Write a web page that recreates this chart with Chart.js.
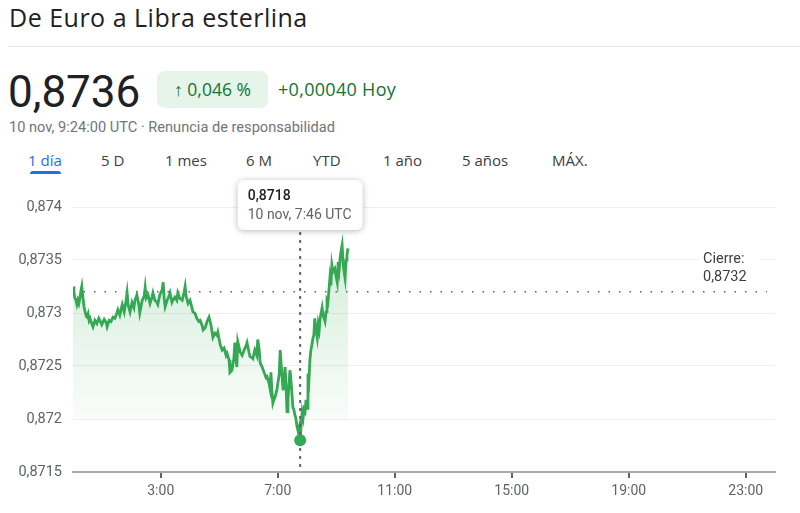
<!DOCTYPE html>
<html lang="es">
<head>
<meta charset="utf-8">
<title>De Euro a Libra esterlina</title>
<script src="https://cdn.jsdelivr.net/npm/chart.js@4.4.1/dist/chart.umd.min.js"></script>
<style>
  html, body { margin: 0; padding: 0; background: #fff; }
  body { width: 800px; height: 513px; position: relative; overflow: hidden; font-family: Roboto, Arial, sans-serif; }
  .abs { position: absolute; white-space: nowrap; line-height: 1; }
  #title { left: 9px; top: 5px; font-family: "Open Sans", sans-serif; font-size: 25px; letter-spacing: 0.5px; color: #202124; }
  #divider { left: 9px; top: 46px; width: 791px; height: 1px; background: #e3e3e3; }
  #price { left: 8px; top: 70px; font-size: 44px; color: #202124; }
  #badge { left: 157px; top: 71px; width: 111px; height: 37px; border-radius: 8px; background: #e6f4ea;
           color: #137333; font-family: "Open Sans", sans-serif; font-size: 17.5px; line-height: 37px; text-align: center; }
  #change { left: 278px; top: 71px; font-family: "Open Sans", sans-serif; font-size: 18px; letter-spacing: 0.3px;
            line-height: 37px; color: #137333; font-weight: 500; }
  #stamp { left: 9px; top: 118px; font-size: 14.6px; line-height: 18px; color: #70757a; }
  .tab { top: 151px; font-family: "Open Sans", sans-serif; font-size: 15px; line-height: 18px; color: #3c4043; font-weight: 500; }
  #tab-active { color: #1a73e8; }
  #underline { left: 30px; top: 171px; width: 31px; height: 3px; border-radius: 3px 3px 0 0; background: #1a73e8; }
  #chart-box { position: absolute; left: 0; top: 170px; width: 800px; height: 343px; }
</style>
</head>
<body>
<div class="abs" id="title">De Euro a Libra esterlina</div>
<div class="abs" id="divider"></div>
<div class="abs" id="price">0,8736</div>
<div class="abs" id="badge">↑ 0,046 %</div>
<div class="abs" id="change">+0,00040 Hoy</div>
<div class="abs" id="stamp">10 nov, 9:24:00 UTC · Renuncia de responsabilidad</div>
<div class="abs tab" id="tab-active" style="left:28px">1 día</div>
<div class="abs tab" style="left:101px">5 D</div>
<div class="abs tab" style="left:165px">1 mes</div>
<div class="abs tab" style="left:246px">6 M</div>
<div class="abs tab" style="left:313px">YTD</div>
<div class="abs tab" style="left:383px">1 año</div>
<div class="abs tab" style="left:462px">5 años</div>
<div class="abs tab" style="left:552px">MÁX.</div>
<div class="abs" id="underline"></div>
<div id="chart-box"><canvas id="fx-chart"></canvas></div>

<script>
// --- Data (minutes after 0:00 UTC, EUR/GBP rate) ---
const minutes = [
  0, 2, 4, 6, 8, 10, 12, 14, 16, 18, 21, 23, 25, 27, 29, 31, 33, 35, 37, 41,
  45, 49, 53, 55, 59, 64, 68, 70, 74, 78, 82, 86, 90, 92, 96, 101, 105, 109, 111, 113,
  117, 121, 125, 127, 131, 135, 137, 142, 146, 148, 150, 154, 158, 162, 164, 168, 172, 174, 178, 183,
  185, 187, 189, 193, 197, 199, 203, 205, 209, 213, 215, 219, 224, 228, 230, 232, 236, 240, 244, 246,
  250, 254, 258, 261, 265, 267, 271, 275, 279, 281, 283, 287, 291, 295, 297, 302, 306, 310, 314, 316,
  320, 322, 326, 330, 332, 334, 336, 338, 343, 347, 351, 355, 357, 361, 363, 367, 369, 373, 377, 379,
  382, 384, 388, 392, 396, 398, 402, 404, 406, 408, 410, 412, 414, 418, 423, 425, 427, 429, 431, 433,
  435, 437, 439, 441, 443, 445, 447, 449, 451, 453, 455, 457, 459, 462, 464, 466, 468, 470, 472, 474,
  476, 478, 480, 482, 484, 486, 488, 490, 492, 494, 496, 498, 501, 503, 505, 507, 511, 513, 517, 519,
  521, 523, 527, 529, 531, 533, 537, 539, 542, 544, 546, 548, 550, 552, 554, 556, 558, 560, 562, 564
];
const rates = [
  0.87325, 0.87319, 0.87314, 0.87312, 0.87308, 0.87312, 0.87309, 0.87314, 0.87320, 0.87325,
  0.87312, 0.87305, 0.87301, 0.87297, 0.87296, 0.87299, 0.87293, 0.87295, 0.87292, 0.87287,
  0.87293, 0.87290, 0.87295, 0.87293, 0.87289, 0.87294, 0.87291, 0.87287, 0.87293, 0.87292,
  0.87296, 0.87295, 0.87300, 0.87303, 0.87298, 0.87308, 0.87301, 0.87312, 0.87319, 0.87308,
  0.87301, 0.87310, 0.87305, 0.87312, 0.87317, 0.87308, 0.87300, 0.87312, 0.87316, 0.87324,
  0.87314, 0.87317, 0.87309, 0.87315, 0.87319, 0.87312, 0.87310, 0.87308, 0.87317, 0.87322,
  0.87329, 0.87314, 0.87306, 0.87312, 0.87316, 0.87319, 0.87310, 0.87312, 0.87315, 0.87312,
  0.87319, 0.87314, 0.87312, 0.87320, 0.87325, 0.87316, 0.87309, 0.87312, 0.87305, 0.87301,
  0.87300, 0.87295, 0.87292, 0.87293, 0.87288, 0.87284, 0.87286, 0.87292, 0.87296, 0.87296,
  0.87289, 0.87277, 0.87281, 0.87279, 0.87282, 0.87270, 0.87265, 0.87267, 0.87260, 0.87262,
  0.87256, 0.87244, 0.87246, 0.87257, 0.87272, 0.87260, 0.87249, 0.87273, 0.87263, 0.87260,
  0.87265, 0.87269, 0.87272, 0.87263, 0.87259, 0.87258, 0.87257, 0.87265, 0.87260, 0.87275,
  0.87265, 0.87253, 0.87249, 0.87244, 0.87239, 0.87240, 0.87234, 0.87229, 0.87244, 0.87227,
  0.87215, 0.87218, 0.87220, 0.87227, 0.87242, 0.87265, 0.87251, 0.87240, 0.87227, 0.87237,
  0.87249, 0.87232, 0.87207, 0.87218, 0.87232, 0.87246, 0.87237, 0.87225, 0.87211, 0.87209,
  0.87204, 0.87201, 0.87194, 0.87188, 0.87192, 0.87180, 0.87194, 0.87206, 0.87201, 0.87209,
  0.87207, 0.87218, 0.87210, 0.87243, 0.87237, 0.87256, 0.87265, 0.87270, 0.87276, 0.87279,
  0.87295, 0.87286, 0.87277, 0.87289, 0.87284, 0.87295, 0.87305, 0.87298, 0.87292, 0.87301,
  0.87312, 0.87310, 0.87333, 0.87326, 0.87345, 0.87339, 0.87342, 0.87336, 0.87329, 0.87348,
  0.87341, 0.87352, 0.87359, 0.87364, 0.87348, 0.87339, 0.87333, 0.87350, 0.87355, 0.87361
];
const prevClose = 0.8732;
const yTickValues = [0.8715, 0.872, 0.8725, 0.873, 0.8735, 0.874];
const xTickMinutes = [180, 420, 660, 900, 1140, 1380];
const xTickLabels = ['3:00', '7:00', '11:00', '15:00', '19:00', '23:00'];
const hoverMinute = 466;
const hoverDate = '10 nov, 7:46 UTC';

const GREEN = '#34a853';
const fmt = v => String(parseFloat(v.toFixed(5))).replace('.', ',');

// draws previous close line, hover line, marker and the tooltip card
const overlayPlugin = {
  id: 'overlay',
  beforeDatasetsDraw(chart) {
    const { ctx, chartArea, scales } = chart;
    const y = scales.y.getPixelForValue(prevClose);
    ctx.save();
    ctx.strokeStyle = '#5f6368';
    ctx.lineWidth = 1.5;
    ctx.setLineDash([1.5, 9]);
    ctx.beginPath();
    ctx.moveTo(chartArea.left, y);
    ctx.lineTo(chartArea.right - 8, y);
    ctx.stroke();
    ctx.restore();
  },
  afterDatasetsDraw(chart) {
    const { ctx, chartArea, scales } = chart;
    const idx = minutes.indexOf(hoverMinute);
    const px = scales.x.getPixelForValue(hoverMinute);
    const py = scales.y.getPixelForValue(rates[idx]);
    const boxW = 125, boxH = 50;
    const boxX = px - boxW / 2, boxY = chartArea.top - 27;

    ctx.save();
    // vertical hover line
    ctx.strokeStyle = '#5f6368';
    ctx.lineWidth = 2;
    ctx.setLineDash([3, 5]);
    ctx.beginPath();
    ctx.moveTo(px, boxY + boxH + 2);
    ctx.lineTo(px, chartArea.bottom);
    ctx.stroke();
    ctx.setLineDash([]);

    // marker
    ctx.fillStyle = GREEN;
    ctx.beginPath();
    ctx.arc(px, py, 6, 0, Math.PI * 2);
    ctx.fill();

    // close label with white backing
    const cx = chartArea.right - 72;
    const cy = scales.y.getPixelForValue(prevClose);
    ctx.fillStyle = '#fff';
    ctx.fillRect(cx - 4, cy - 44, 62, 38);
    ctx.fillStyle = '#3c4043';
    ctx.font = '14.5px Roboto';
    ctx.textBaseline = 'middle';
    ctx.textAlign = 'left';
    ctx.fillText('Cierre:', cx, cy - 32);
    ctx.fillText(fmt(prevClose), cx, cy - 14);

    // tooltip card
    ctx.shadowColor = 'rgba(0,0,0,0.28)';
    ctx.shadowBlur = 6;
    ctx.shadowOffsetY = 1;
    ctx.fillStyle = '#fff';
    ctx.beginPath();
    ctx.roundRect(boxX, boxY, boxW, boxH, 6);
    ctx.fill();
    ctx.shadowColor = 'transparent';
    ctx.fillStyle = '#202124';
    ctx.font = '500 14px Roboto';
    ctx.fillText(fmt(rates[idx]), boxX + 10, boxY + 16);
    ctx.fillStyle = '#5f6368';
    ctx.font = '14px Roboto';
    ctx.fillText(hoverDate, boxX + 10, boxY + 35);
    ctx.restore();
  }
};

document.addEventListener('DOMContentLoaded', () => {
  const ctx = document.getElementById('fx-chart').getContext('2d');
  new Chart(ctx, {
    type: 'line',
    data: {
      datasets: [{
        data: minutes.map((m, i) => ({ x: m, y: rates[i] })),
        borderColor: GREEN,
        borderWidth: 2.8,
        pointRadius: 0,
        tension: 0,
        fill: { value: 0.872 },
        backgroundColor: (context) => {
          const { chart } = context;
          const area = chart.chartArea;
          if (!area) return 'rgba(52,168,83,0.1)';
          const bottom = chart.scales.y.getPixelForValue(0.872);
          const g = chart.ctx.createLinearGradient(0, area.top + 30, 0, bottom);
          g.addColorStop(0, 'rgba(52,168,83,0.22)');
          g.addColorStop(1, 'rgba(52,168,83,0.03)');
          return g;
        }
      }]
    },
    options: {
      responsive: true,
      maintainAspectRatio: false,
      animation: false,
      events: [],
      layout: { padding: { top: 37, right: 25, left: 0, bottom: 0 } },
      plugins: { legend: { display: false }, tooltip: { enabled: false } },
      scales: {
        x: {
          type: 'linear',
          min: 0,
          max: 1440,
          afterBuildTicks: (scale) => { scale.ticks = xTickMinutes.map(v => ({ value: v })); },
          afterFit: (scale) => { scale.height = 41; },
          ticks: {
            autoSkip: false,
            maxRotation: 0,
            padding: 5,
            color: '#5f6368',
            font: { family: 'Roboto', size: 14 },
            callback: (v) => xTickLabels[xTickMinutes.indexOf(v)]
          },
          grid: { drawOnChartArea: false, drawTicks: true, tickLength: 6, color: '#5f6368', lineWidth: 2 },
          border: { display: true, color: '#a8abaf', width: 2 }
        },
        y: {
          min: 0.8715,
          max: 0.874,
          afterBuildTicks: (scale) => { scale.ticks = yTickValues.map(v => ({ value: v })); },
          afterFit: (scale) => { scale.width = 73; },
          ticks: {
            padding: 11,
            color: '#5f6368',
            font: { family: 'Roboto', size: 14.5 },
            callback: (v) => fmt(v)
          },
          grid: { color: '#efefef', lineWidth: 1, drawTicks: false },
          border: { display: false }
        }
      }
    },
    plugins: [overlayPlugin]
  });
});
</script>
</body>
</html>
